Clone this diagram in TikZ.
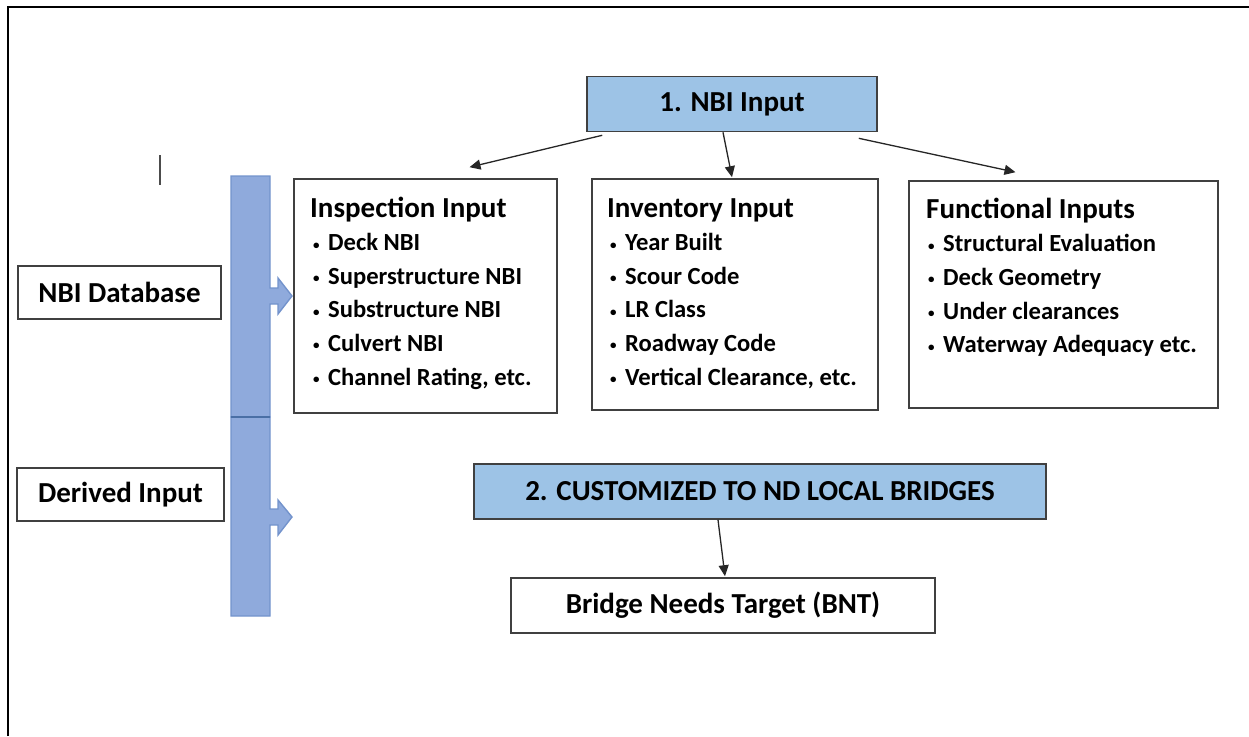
\documentclass[tikz,border=0pt]{standalone}
\usepackage{fontspec}
\setmainfont{Carlito}
\usetikzlibrary{arrows.meta,positioning}

\definecolor{hdblue}{HTML}{9DC3E6}
\definecolor{barblue}{HTML}{8FAADC}
\definecolor{barline}{HTML}{7393CC}
\definecolor{barsplit}{HTML}{4A6FA5}
\definecolor{boxgray}{HTML}{404040}

\newcommand{\blt}{\makebox[15pt][l]{\raisebox{1.5pt}{\fontsize{13}{13}\selectfont\textbullet}}}

\begin{document}
\begin{tikzpicture}[
  x=1pt,y=-1pt,
  box/.style={draw=boxgray,line width=1.6pt,inner sep=0pt,align=center,
    font=\fontsize{29}{34}\selectfont\bfseries},
  hdbox/.style={box,fill=hdblue},
  head/.style={anchor=base west,inner sep=0pt,font=\fontsize{29}{34}\selectfont\bfseries},
  item/.style={anchor=base west,inner sep=0pt,font=\fontsize{24.6}{34}\selectfont\bfseries},
  link/.style={-{Triangle[length=11pt,width=10pt]},line width=1.3pt,black!85},
  barpart/.style={fill=barblue,draw=barline,line width=1.4pt,line join=miter}
]
  \useasboundingbox (0,0) rectangle (1249,736);
  % frame
  \draw[line width=2.5pt] (8,736) -- (8,7) -- (1249,7);
  \draw[line width=1.8pt,black!70] (160,155) -- (160,185);

  % boxes
  \node[hdbox,minimum width=290pt,minimum height=55pt] (nbi) at (732,104) {1. NBI Input};
  \node[box,minimum width=263pt,minimum height=234pt] (insp) at (425.5,296) {};
  \node[box,minimum width=286pt,minimum height=231pt] (inv) at (735,294.5) {};
  \node[box,minimum width=309pt,minimum height=227pt] (func) at (1063.5,294.5) {};
  \node[box,minimum width=203pt,minimum height=53pt] (db) at (119.5,292.5) {NBI Database};
  \node[box,minimum width=207pt,minimum height=53pt] (derived) at (120.5,494.5) {Derived Input};
  \node[hdbox,minimum width=572pt,minimum height=55pt] (cust) at (760,491.5) {2. CUSTOMIZED TO ND LOCAL BRIDGES};
  \node[box,minimum width=424pt,minimum height=55pt] (bnt) at (723,605.5) {Bridge Needs Target (BNT)};

  % lists
  \node[head] (insphead) at (310,217) {Inspection Input};
  \foreach \txt [count=\i] in {Deck NBI,Superstructure NBI,Substructure NBI,Culvert NBI,{Channel Rating, etc.}}
    \node[item] (insp\i) at (313,217+33.6*\i) {\blt\txt};
  \node[head] (invhead) at (607,217) {Inventory Input};
  \foreach \txt [count=\i] in {Year Built,Scour Code,LR Class,Roadway Code,{Vertical Clearance, etc.}}
    \node[item] (inv\i) at (610,217+33.6*\i) {\blt\txt};
  \node[head] (funchead) at (926,218) {Functional Inputs};
  \foreach \txt [count=\i] in {Structural Evaluation,Deck Geometry,Under clearances,Waterway Adequacy etc.}
    \node[item] (func\i) at (928,218+33.7*\i) {\blt\txt};

  % blue bar with arrow tabs
  \draw[barpart] (231,176) -- (270,176) -- (270,288) -- (278,288) -- (278,278) -- (292,296)
    -- (278,314) -- (278,304) -- (270,304) -- (270,417) -- (231,417) -- cycle;
  \draw[barpart] (231,417) -- (270,417) -- (270,509) -- (278,509) -- (278,500) -- (292,517)
    -- (278,535) -- (278,525) -- (270,525) -- (270,616) -- (231,616) -- cycle;
  \draw[barsplit,line width=2pt] (231,417) -- (270,417);

  % connectors
  \draw[link] ([xshift=16pt,yshift=-3pt]nbi.south west) -- ([xshift=44pt,yshift=11pt]insp.north);
  \draw[link] ([xshift=-9pt]nbi.south) -- ([xshift=-3pt,yshift=1pt]inv.north);
  \draw[link] ([xshift=-19pt,yshift=-6pt]nbi.south east) -- ([xshift=-48pt,yshift=8pt]func.north);
  \draw[link] ([xshift=-42pt]cust.south) -- ([xshift=2pt,yshift=1pt]bnt.north);
\end{tikzpicture}
\end{document}
